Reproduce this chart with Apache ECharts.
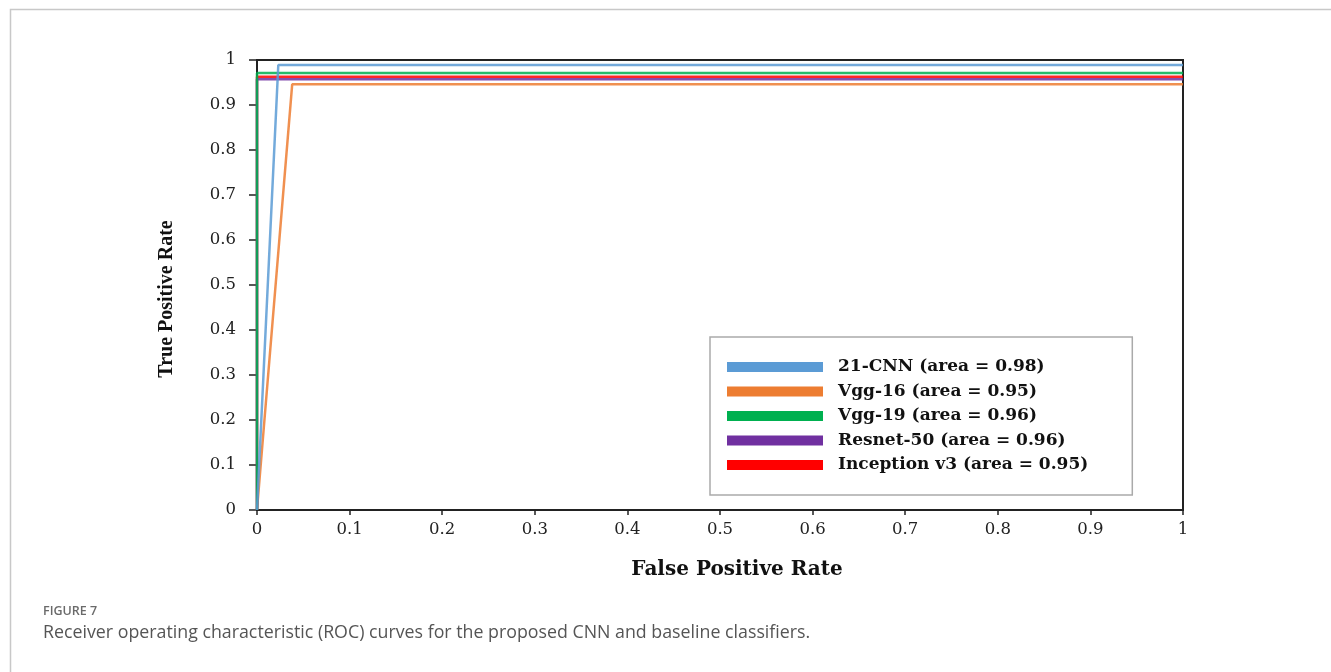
<!DOCTYPE html>
<html><head><meta charset="utf-8">
<script src="https://cdn.jsdelivr.net/npm/echarts@6/dist/echarts.min.js"></script>
<style>html,body{margin:0;padding:0;background:#fff}#c{width:1331px;height:672px}</style>
</head><body><div id="c"></div>
<script>
const seriesNames = ['21-CNN (area = 0.98)','Vgg-16 (area = 0.95)','Vgg-19 (area = 0.96)','Resnet-50 (area = 0.96)','Inception v3 (area = 0.95)'];
const seriesColors = ['#5b9bd5','#ed7d31','#00b050','#7030a0','#ff0000'];
const cnnFpr = [0, 0.023, 1];
const cnnTpr = [0, 0.989, 0.989];
const vgg16Fpr = [0, 0.038, 1];
const vgg16Tpr = [0, 0.946, 0.946];
const vgg19Fpr = [0, 0, 1];
const vgg19Tpr = [0, 0.971, 0.971];
const resnetFpr = [0, 0, 1];
const resnetTpr = [0, 0.957, 0.957];
const inceptionFpr = [0, 0, 1];
const inceptionTpr = [0, 0.963, 0.963];
const xTicks = ['0','0.1','0.2','0.3','0.4','0.5','0.6','0.7','0.8','0.9','1'];
const yTicks = ['0','0.1','0.2','0.3','0.4','0.5','0.6','0.7','0.8','0.9','1'];

const curves = [[cnnFpr,cnnTpr],[vgg16Fpr,vgg16Tpr],[vgg19Fpr,vgg19Tpr],[resnetFpr,resnetTpr],[inceptionFpr,inceptionTpr]];
const zip = (a,b)=>a.map((v,i)=>[v,b[i]]);
const drawOrder = [1,4,3,2,0];
const serif = '"Liberation Serif","Times New Roman",serif';
const wide = '"DejaVu Serif",serif';

const chart = echarts.init(document.getElementById('c'), null, {renderer:'canvas'});
chart.setOption({
  animation:false,
  grid:{left:257,right:148,top:60,bottom:162,show:true,borderColor:'#222',borderWidth:2,backgroundColor:'transparent'},
  xAxis:{type:'value',min:0,max:1,interval:0.1,
    name:'False Positive Rate',nameLocation:'middle',nameGap:50,
    nameTextStyle:{fontFamily:wide,fontWeight:'bold',fontSize:20,color:'#111',padding:[0,0,0,34]},
    axisLine:{lineStyle:{color:'#222',width:2}},
    axisTick:{show:true,length:5,lineStyle:{color:'#222',width:1.5}},
    axisLabel:{fontFamily:wide,fontSize:16.5,color:'#222',margin:11,formatter:(v)=>xTicks[Math.round(v*10)]},
    splitLine:{show:false}},
  yAxis:{type:'value',min:0,max:1,interval:0.1,
    name:'True Positive Rate',nameLocation:'middle',nameGap:80,
    nameTextStyle:{fontFamily:serif,fontWeight:'bold',fontSize:20,color:'#111',padding:[0,28,0,0]},
    axisLine:{show:true,lineStyle:{color:'#222',width:2}},
    axisTick:{show:true,length:8,lineStyle:{color:'#222',width:1.5}},
    axisLabel:{fontFamily:wide,fontSize:16.5,color:'#222',margin:21,formatter:(v)=>yTicks[Math.round(v*10)]},
    splitLine:{show:false}},
  legend:{orient:'vertical',left:710,top:337,padding:[20,44,20,17],itemGap:4.5,
    itemWidth:96,itemHeight:10,icon:'rect',
    borderColor:'#aaa',borderWidth:1.5,backgroundColor:'#fff',
    textStyle:{fontFamily:wide,fontWeight:'bold',fontSize:17,color:'#111',lineHeight:20,padding:[0,0,0,10]},
    data:seriesNames.map((n,i)=>({name:n,itemStyle:{color:seriesColors[i]}}))},
  series:drawOrder.map(i=>({name:seriesNames[i],type:'line',data:zip(curves[i][0],curves[i][1]),
    showSymbol:false,symbol:'none',color:seriesColors[i],
    lineStyle:{color:seriesColors[i],width:2.5,opacity:0.85},z:2})),
  graphic:[
    {type:'rect',left:8,top:7,shape:{width:1340,height:700},style:{fill:'none',stroke:'#c8c8c8',lineWidth:1.5},silent:true},
    {type:'text',left:43,top:605,style:{text:'FIGURE 7',font:'600 12.5px "Open Sans",sans-serif',fill:'#6a6a6a'}},
    {type:'text',left:43,top:624,style:{text:'Receiver operating characteristic (ROC) curves for the proposed CNN and baseline classifiers.',font:'17.8px "Open Sans",sans-serif',fill:'#555'}}
  ]
});
</script></body></html>
